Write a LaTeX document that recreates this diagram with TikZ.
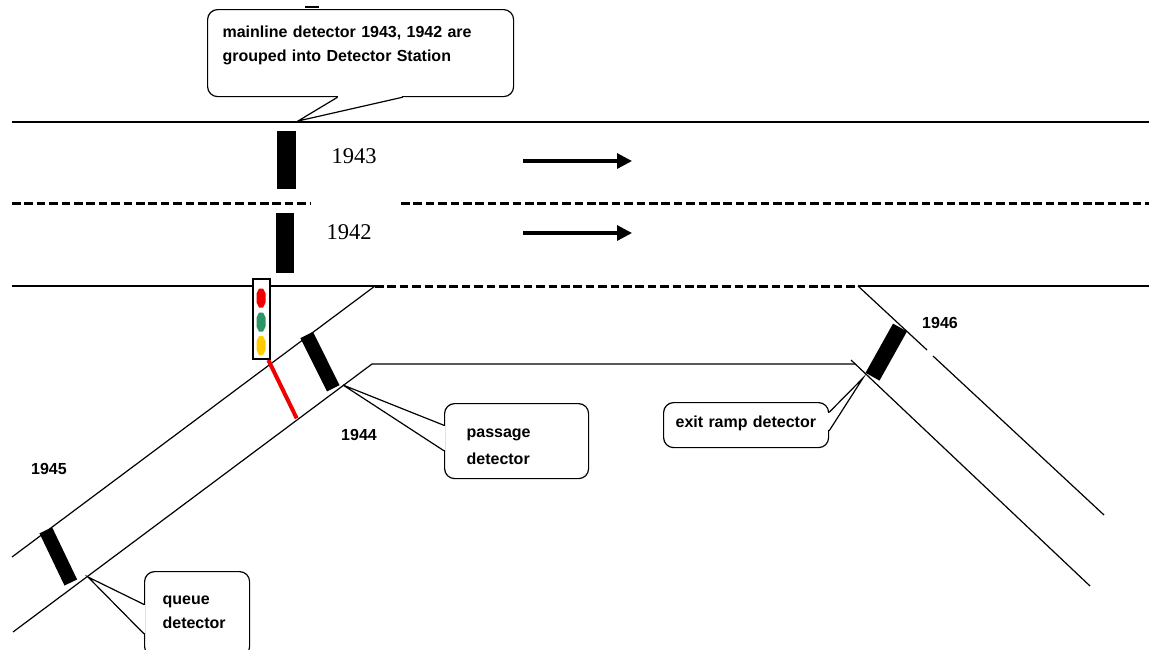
\documentclass[tikz,border=0pt]{standalone}
\usepackage{fontspec}
\setmainfont{Liberation Sans}
\newfontfamily\lanefont{Liberation Serif}
\usetikzlibrary{calc,arrows.meta}

\definecolor{sigred}{RGB}{240,0,0}
\definecolor{siggreen}{RGB}{46,150,100}
\definecolor{sigyellow}{RGB}{255,204,0}

\tikzset{
  road/.style={line width=0.6pt},
  lane/.style={line width=1.5pt, dash pattern=on 4.3pt off 1.9pt},
  detector/.style={line width=7pt},
  flow/.style={line width=1.6pt, -{Triangle[length=7.5pt,width=7.5pt]}},
  note/.style={draw, fill=white, line width=0.6pt, rounded corners=5pt, anchor=north west,
    align=left, inner ysep=0pt, font=\bfseries\fontsize{8pt}{12pt}\selectfont},
  idlabel/.style={font=\bfseries\fontsize{8pt}{10pt}\selectfont},
  lanelabel/.style={font=\lanefont\fontsize{11.25pt}{13pt}\selectfont},
}

\begin{document}
\begin{tikzpicture}[x=0.5pt, y=-0.5pt]
	\useasboundingbox (0,0) rectangle (1149,649);
	% mainline
	\draw[road] (12,122) -- (1149,122);
	\draw[lane] (12,203) -- (311,203);
	\draw[lane] (401,203) -- (1149,203);
	\draw[road] (12,286) -- (253,286);
	\draw[road] (270,286) -- (375,286);
	\draw[lane] (375,286) -- (858,286);
	\draw[road] (858,286) -- (1149,286);
	% on ramp
	\draw[road] (375,286) -- (12,557);
	\draw[road] (13,632) -- (372,364) -- (855,364);
	% off ramp
	\draw[road] (858,286) -- (927,350);
	\draw[road] (933,356) -- (1104,515);
	\draw[road] (851,360) -- (1090,586);
	% direction of travel
	\draw[flow] (523,161) -- (632,161);
	\draw[flow] (523,233) -- (632,233);
	% detectors
	\draw[detector, line width=9.5pt] (286.5,131) -- (286.5,189);
	\draw[detector, line width=9pt] (285,213) -- (285,273);
	\draw[detector] (45.8,530.3) -- (70.8,582.5);
	\draw[detector] (306.7,335) -- (333.3,388.3);
	\draw[detector, line width=8pt] (900,327.5) -- (872.5,376.7);
	\draw[sigred, line width=2pt] (268.3,360) -- (296.7,418.3);
	% ramp signal
	\draw[road, fill=white] (253,279) rectangle (270,359);
	\foreach \cy/\col in {298/sigred, 322/siggreen, 345.5/sigyellow}
		\fill[\col] (259,\cy-9.5) -- (263,\cy-9.5) -- (265.5,\cy-4.5) -- (265.5,\cy+4.5)
			-- (263,\cy+9.5) -- (259,\cy+9.5) -- (256.5,\cy+4.5) -- (256.5,\cy-4.5) -- cycle;
	% labels
	\node[lanelabel] (lane1943) at (354,156) {1943};
	\node[lanelabel] (lane1942) at (349,232.5) {1942};
	\node[idlabel] (id1945) at (49,468.5) {1945};
	\node[idlabel] (id1944) at (359,435) {1944};
	\node[idlabel] (id1946) at (940,322.5) {1946};
	% notes
	\draw[line width=1pt] (305,6.5) -- (319,6.5);
	\node[note, inner xsep=7.5pt, text width=138pt, text height=13.75pt, text depth=29.75pt]
		(mainnote) at (207,9) {mainline detector 1943, 1942 are\\grouped into Detector Station};
	\node[note, inner xsep=11pt, text width=50pt, text height=17pt, text depth=20.5pt,
		font=\bfseries\fontsize{8pt}{13.5pt}\selectfont]
		(passnote) at (444,403) {passage\\detector};
	\node[note, inner xsep=9pt, text width=34.5pt, text height=16.5pt, text depth=26pt]
		(queuenote) at (144,571) {queue\\detector};
	\node[note, inner xsep=6pt, text width=70.5pt, text height=12.5pt, text depth=10pt]
		(exitnote) at (663,402) {exit ramp detector};
	% pointers
	\coordinate (maintip) at (298,121);
	\coordinate (mainA) at ($(mainnote.south west)!0.425!(mainnote.south east)$);
	\coordinate (mainB) at ($(mainnote.south west)!0.637!(mainnote.south east)$);
	\draw[white, line width=1.4pt, shorten <=0.3pt, shorten >=0.3pt] (mainA) -- (mainB);
	\draw[road] (mainA) -- (maintip) -- (mainB);
	\coordinate (passtip) at (343,385);
	\coordinate (passA) at ($(passnote.north west)!0.293!(passnote.south west)$);
	\coordinate (passB) at ($(passnote.north west)!0.627!(passnote.south west)$);
	\draw[white, line width=1.4pt, shorten <=0.3pt, shorten >=0.3pt] (passA) -- (passB);
	\draw[road] (passA) -- (passtip) -- (passB);
	\coordinate (queuetip) at (88,577);
	\coordinate (queueA) at ($(queuenote.north west)!0.388!(queuenote.south west)$);
	\coordinate (queueB) at ($(queuenote.north west)!0.729!(queuenote.south west)$);
	\draw[white, line width=1.4pt, shorten <=0.3pt, shorten >=0.3pt] (queueA) -- (queueB);
	\draw[road] (queueA) -- (queuetip) -- (queueB);
	\coordinate (exittip) at (863,378);
	\coordinate (exitA) at ($(exitnote.north east)!0.222!(exitnote.south east)$);
	\coordinate (exitB) at ($(exitnote.north east)!0.622!(exitnote.south east)$);
	\draw[white, line width=1.4pt, shorten <=0.3pt, shorten >=0.3pt] (exitA) -- (exitB);
	\draw[road] (exitA) -- (exittip) -- (exitB);
\end{tikzpicture}
\end{document}
